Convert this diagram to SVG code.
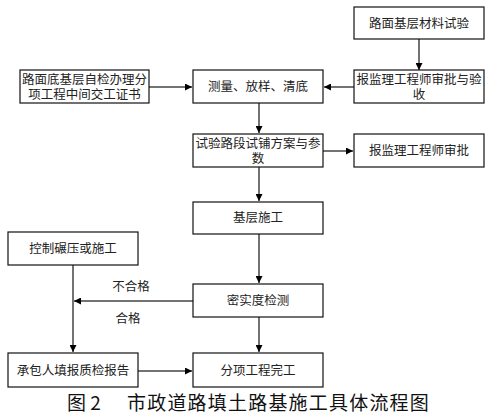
<svg xmlns="http://www.w3.org/2000/svg" width="500" height="420" viewBox="0 0 500 420">
<defs>
<style>
.box{fill:#fff;stroke:#111;stroke-width:1.2}
.t{font-family:"Liberation Serif","Noto Sans CJK SC",serif;font-size:12.5px;fill:#222;text-anchor:middle}
.ln{stroke:#444;stroke-width:1.5;fill:none;marker-end:url(#ah)}
.cap{font-family:"Noto Sans CJK SC",sans-serif;font-size:19px;fill:#111}
</style>
<marker id="ah" viewBox="0 0 10 10" refX="10" refY="5" markerWidth="7" markerHeight="7" markerUnits="userSpaceOnUse" orient="auto">
<path d="M0,0 L10,5 L0,10 z" fill="#000"/>
</marker>
</defs>
<rect width="500" height="420" fill="#fff"/>
<g id="connectors">
<line class="ln" x1="419" y1="39" x2="419" y2="70"/>
<line class="ln" x1="354" y1="87" x2="324" y2="87"/>
<line class="ln" x1="149" y1="87" x2="192" y2="87"/>
<line class="ln" x1="259" y1="103" x2="259" y2="133"/>
<line class="ln" x1="323" y1="151" x2="353" y2="151"/>
<line class="ln" x1="259" y1="167" x2="259" y2="201"/>
<line class="ln" x1="259" y1="234" x2="259" y2="283"/>
<line class="ln" x1="193" y1="301" x2="74" y2="301"/>
<line class="ln" x1="73" y1="265" x2="73" y2="352"/>
<line class="ln" x1="259" y1="317" x2="259" y2="352"/>
<line class="ln" x1="138" y1="371" x2="192" y2="371"/>
<text class="t" x="131" y="291">不合格</text>
<text class="t" x="128" y="323">合格</text>
</g>
<g id="n1"><rect class="box" x="354" y="7" width="130" height="32"/><text class="t" x="419" y="28">路面基层材料试验</text></g>
<g id="n2"><rect class="box" x="354" y="70" width="130" height="33"/><text class="t" x="419" y="84">报监理工程师审批与验</text><text class="t" x="419" y="99">收</text></g>
<g id="n3"><rect class="box" x="193" y="70" width="130" height="33"/><text class="t" x="258" y="91">测量、放样、清底</text></g>
<g id="n4"><rect class="box" x="20" y="70" width="129" height="33"/><text class="t" x="84.5" y="84">路面底基层自检办理分</text><text class="t" x="84.5" y="99">项工程中间交工证书</text></g>
<g id="n5"><rect class="box" x="193" y="134" width="130" height="33"/><text class="t" x="258" y="148">试验路段试铺方案与参</text><text class="t" x="258" y="163">数</text></g>
<g id="n6"><rect class="box" x="354" y="134" width="130" height="33"/><text class="t" x="419" y="155">报监理工程师审批</text></g>
<g id="n7"><rect class="box" x="193" y="202" width="130" height="32"/><text class="t" x="258" y="222">基层施工</text></g>
<g id="n8"><rect class="box" x="8" y="232" width="130" height="33"/><text class="t" x="73" y="253">控制碾压或施工</text></g>
<g id="n9"><rect class="box" x="193" y="284" width="130" height="33"/><text class="t" x="258" y="305">密实度检测</text></g>
<g id="n10"><rect class="box" x="8" y="353" width="130" height="34"/><text class="t" x="73" y="375">承包人填报质检报告</text></g>
<g id="n11"><rect class="box" x="193" y="353" width="130" height="34"/><text class="t" x="258" y="375">分项工程完工</text></g>
<text class="cap" y="410"><tspan x="67">图 2</tspan><tspan x="127" letter-spacing="1.2">市政道路填土路基施工具体流程图</tspan></text>
</svg>
